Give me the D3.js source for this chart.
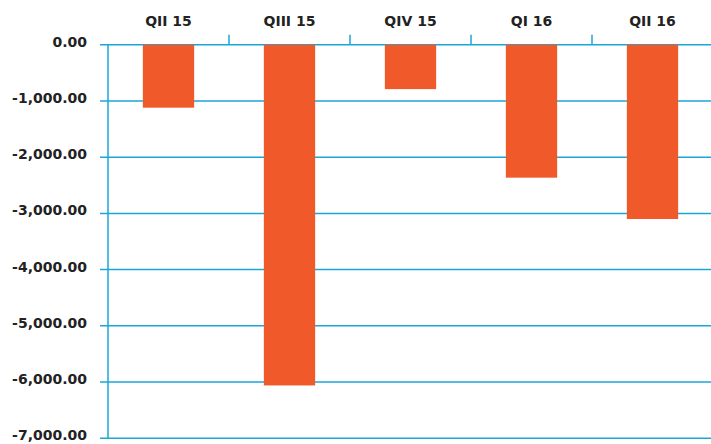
<!DOCTYPE html>
<html><head><meta charset="utf-8">
<script src="https://cdn.jsdelivr.net/npm/d3@7"></script>
<style>
html,body{margin:0;padding:0;background:#fff;}
text{font-family:"DejaVu Sans",Arial,Helvetica,sans-serif;font-weight:bold;fill:#222;}
</style></head>
<body><svg id="c" width="711" height="444"></svg>
<script>
const categories = ["QII 15","QIII 15","QIV 15","QI 16","QII 16"];
const values = [-1120, -6060, -790, -2365, -3100];
const yTicks = [0,-1000,-2000,-3000,-4000,-5000,-6000,-7000];

(function(){
const svg = d3.select("#c");
const mLeft = 108, mRight = 713, mTop = 44.7, mBottom = 438.3;
const blue = "#1ba6d6", orange = "#f05a2a";

const y = d3.scaleLinear().domain([0,-7000]).range([mTop,mBottom]);
const xOuter = d3.scaleBand().domain(categories).range([mLeft,mRight]).padding(0);
const x = d3.scaleBand().domain(categories).range([mLeft,mRight]).paddingInner(0.576).paddingOuter(0.288);

svg.append("g").selectAll("line").data(yTicks).join("line")
  .attr("x1", mLeft-8).attr("x2", 711)
  .attr("y1", d=>y(d)).attr("y2", d=>y(d))
  .attr("stroke", blue).attr("stroke-width", 1.5);

svg.append("line").attr("x1",mLeft).attr("x2",mLeft).attr("y1",mTop).attr("y2",mBottom)
  .attr("stroke", blue).attr("stroke-width", 1.5);

svg.append("g").selectAll("line").data(categories.slice(1)).join("line")
  .attr("x1", d=>xOuter(d)).attr("x2", d=>xOuter(d))
  .attr("y1", mTop-10).attr("y2", mTop)
  .attr("stroke", blue).attr("stroke-width", 1.5);

svg.append("g").selectAll("rect").data(values).join("rect")
  .attr("x", (d,i)=>x(categories[i]))
  .attr("width", x.bandwidth())
  .attr("y", y(0))
  .attr("height", d=>y(d)-y(0))
  .attr("fill", orange);

const fmt = d3.format(",.2f");
svg.append("g").selectAll("text").data(yTicks).join("text")
  .attr("x", 87).attr("y", d=>y(d)-3).attr("dy","0.36em")
  .attr("text-anchor","end").attr("font-size","14px")
  .text(d=>fmt(d).replace("\u2212","-"));

svg.append("g").selectAll("text").data(categories).join("text")
  .attr("x", d=>xOuter(d)+xOuter.bandwidth()/2).attr("y", 26)
  .attr("text-anchor","middle").attr("font-size","14px")
  .text(d=>d);
})();
</script></body></html>
